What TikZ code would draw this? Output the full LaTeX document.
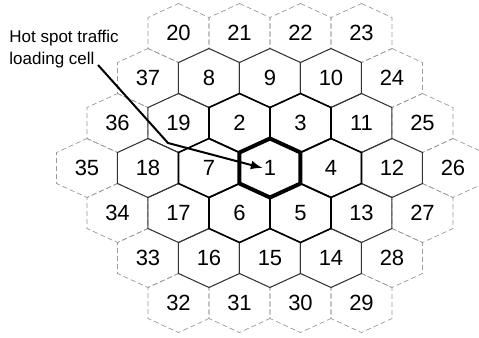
\documentclass[tikz,border=0pt]{standalone}
\usepackage{fontspec}
\setmainfont{Liberation Sans}
\usepackage{tikz}
\usetikzlibrary{shapes,arrows,positioning}
\usepackage{xcolor}

% one hexagonal cell around a label node
\newcommand{\hexcell}[2][]{%
  \draw[#1] (#2.center) ++(0,-29.5) -- ++(30.5,14) -- ++(0,31) -- ++(-30.5,14)
    -- ++(-30.5,-14) -- ++(0,-31) -- cycle;}

\begin{document}
\begin{tikzpicture}[
    x=0.5pt, y=-0.5pt,
    cell/.style={font=\fontsize{11}{11}\selectfont, inner sep=0.5pt},
    note/.style={font=\fontsize{8.5}{11}\selectfont, align=left, inner sep=0pt, anchor=north west},
    ringthree/.style={draw=black!40, line width=0.35pt, dash pattern=on 2.5pt off 1.5pt},
    ringtwo/.style={draw=black!80, line width=0.5pt},
    ringone/.style={draw=black, line width=0.8pt},
    hotcell/.style={draw=black, line width=2pt, line join=round},
    arrow/.style={-latex, line width=1pt}
]
    \useasboundingbox (0,0) rectangle (479,338);

    % Row 1
    \node[cell] (c20) at (178.5,33) {20};
    \node[cell] (c21) at (239.5,33) {21};
    \node[cell] (c22) at (300.5,33) {22};
    \node[cell] (c23) at (361.5,33) {23};

    % Row 2
    \node[cell] (c37) at (148,78) {37};
    \node[cell] (c8)  at (209,78) {8};
    \node[cell] (c9)  at (270,78) {9};
    \node[cell] (c10) at (331,78) {10};
    \node[cell] (c24) at (392,78) {24};

    % Row 3
    \node[cell] (c36) at (117.5,123) {36};
    \node[cell] (c19) at (178.5,123) {19};
    \node[cell] (c2)  at (239.5,123) {2};
    \node[cell] (c3)  at (300.5,123) {3};
    \node[cell] (c11) at (361.5,123) {11};
    \node[cell] (c25) at (422.5,123) {25};

    % Row 4 (hot spot cell in the middle)
    \node[cell] (c35) at (87,168) {35};
    \node[cell] (c18) at (148,168) {18};
    \node[cell] (c7)  at (209,168) {7};
    \node[cell] (c1)  at (270,168) {1};
    \node[cell] (c4)  at (331,168) {4};
    \node[cell] (c12) at (392,168) {12};
    \node[cell] (c26) at (453,168) {26};

    % Row 5
    \node[cell] (c34) at (117.5,213) {34};
    \node[cell] (c17) at (178.5,213) {17};
    \node[cell] (c6)  at (239.5,213) {6};
    \node[cell] (c5)  at (300.5,213) {5};
    \node[cell] (c13) at (361.5,213) {13};
    \node[cell] (c27) at (422.5,213) {27};

    % Row 6
    \node[cell] (c33) at (148,258) {33};
    \node[cell] (c16) at (209,258) {16};
    \node[cell] (c15) at (270,258) {15};
    \node[cell] (c14) at (331,258) {14};
    \node[cell] (c28) at (392,258) {28};

    % Row 7
    \node[cell] (c32) at (178.5,303) {32};
    \node[cell] (c31) at (239.5,303) {31};
    \node[cell] (c30) at (300.5,303) {30};
    \node[cell] (c29) at (361.5,303) {29};

    % Cell outlines, outer rings first
    \foreach \c in {20,...,37} {\hexcell[ringthree]{c\c}}
    \foreach \c in {8,...,19} {\hexcell[ringtwo]{c\c}}
    \foreach \c in {2,...,7} {\hexcell[ringone]{c\c}}
    \hexcell[hotcell]{c1}

    % Label
    \node[note] (hotspot) at (9,29.3) {Hot spot traffic\\loading cell};

    % Arrow
    \coordinate (tail) at (98,65);
    \coordinate (bend) at (168,143);
    \draw[arrow] (tail) -- (bend) -- (c1.west);
\end{tikzpicture}
\end{document}
